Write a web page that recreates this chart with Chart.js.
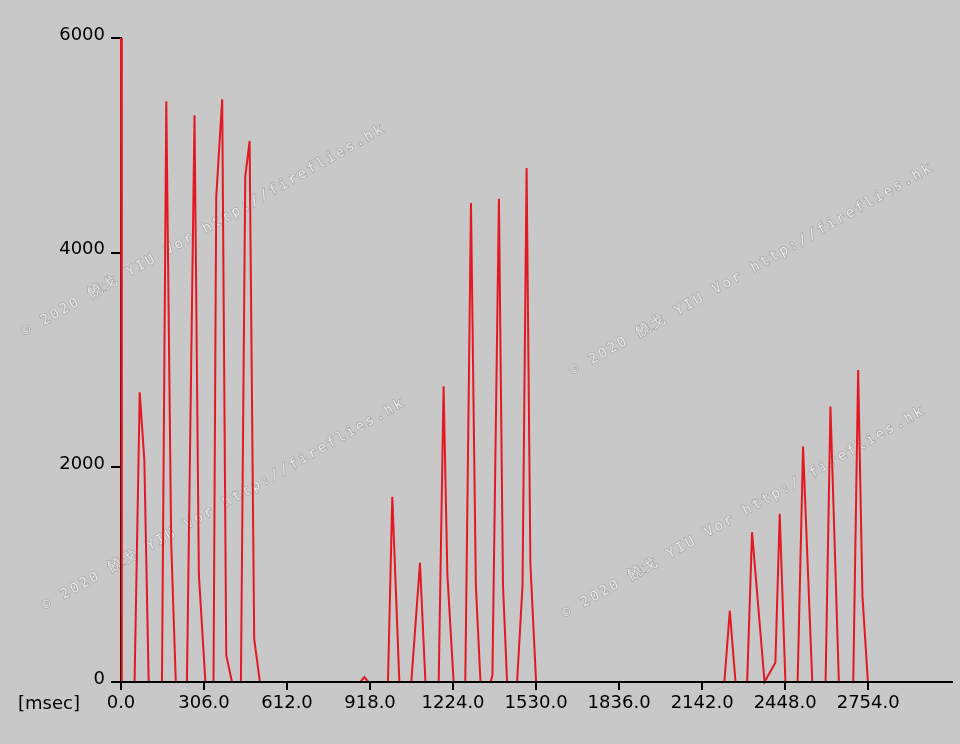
<!DOCTYPE html>
<html><head><meta charset="utf-8">
<script src="https://cdn.jsdelivr.net/npm/chart.js@4.4.1/dist/chart.umd.min.js"></script>
<style>html,body{margin:0;padding:0;background:#c8c8c8;overflow:hidden}canvas{display:block}</style>
</head><body>
<canvas id="c" width="960" height="744"></canvas>
<script>
// ---- data (time in msec, flash intensity) ----
const burst1Times  = [0,3,50,69,86,102,151,167,185,202,243,271,287,311,341,351,373,388,409,442,458,474,491,512];
const burst1Values = [6000,0,0,2700,2070,0,0,5410,1300,0,0,5280,1000,0,0,4520,5430,250,0,0,4710,5040,400,0];
const burst2Times  = [882,897,912,984,1000,1026,1070,1102,1122,1171,1189,1203,1226,1269,1290,1308,1325,1362,1369,1393,1408,1423,1460,1480,1495,1509,1530];
const burst2Values = [0,45,0,0,1726,0,0,1111,0,0,2755,1000,0,0,4462,900,0,0,60,4503,900,0,0,900,4788,1100,0];
const burst3Times  = [2224,2244,2265,2308,2326,2372,2412,2428,2449,2494,2514,2548,2597,2615,2646,2699,2717,2733,2753];
const burst3Values = [0,664,0,0,1396,0,180,1567,0,0,2193,0,0,2566,0,0,2907,800,0];
const xTickValues = [0,306,612,918,1224,1530,1836,2142,2448,2754];
const xTickLabels = ['0.0','306.0','612.0','918.0','1224.0','1530.0','1836.0','2142.0','2448.0','2754.0'];
const yTickValues = [0,2000,4000,6000];
const yTickLabels = ['0','2000','4000','6000'];
const xUnitLabel = '[msec]';
const watermarkText = '© 2020 饒戈 YIU Vor http://fireflies.hk';

const times = burst1Times.concat(burst2Times, burst3Times);
const values = burst1Values.concat(burst2Values, burst3Values);
const points = times.map((t, i) => ({x: t, y: values[i]}));

const FONT = {family: '"DejaVu Sans", sans-serif', size: 18};

const decor = {
  id: 'decor',
  beforeDraw(chart) {
    const ctx = chart.ctx;
    ctx.save();
    ctx.fillStyle = '#c8c8c8';
    ctx.fillRect(0, 0, chart.width, chart.height);
    const marks = [[23, 333], [571, 372], [43, 607], [563, 615]];
    ctx.font = '14px "DejaVu Sans Mono", monospace';
    try { ctx.letterSpacing = '2.5px'; } catch (e) {}
    ctx.textBaseline = 'middle';
    ctx.textAlign = 'left';
    marks.forEach(([x, y]) => {
      ctx.save();
      ctx.translate(x, y);
      ctx.rotate(-29.6 * Math.PI / 180);
      ctx.lineWidth = 1.6;
      ctx.strokeStyle = 'rgba(150,150,150,0.55)';
      ctx.strokeText(watermarkText, 0, 0);
      ctx.fillStyle = '#e6e6e6';
      ctx.fillText(watermarkText, 0, 0);
      ctx.restore();
    });
    ctx.restore();
  },
  afterDraw(chart) {
    const ctx = chart.ctx;
    ctx.save();
    ctx.font = '18px "DejaVu Sans", sans-serif';
    ctx.fillStyle = '#000';
    ctx.textBaseline = 'middle';
    ctx.textAlign = 'left';
    ctx.fillText(xUnitLabel, 18, 704);
    ctx.restore();
  }
};

new Chart(document.getElementById('c'), {
  type: 'line',
  data: {
    datasets: [{
      data: points,
      borderColor: 'rgb(228,24,34)',
      borderWidth: 2,
      pointRadius: 0,
      tension: 0,
      fill: false,
      clip: 4
    }]
  },
  options: {
    responsive: false,
    devicePixelRatio: 1,
    animation: false,
    layout: {padding: {left: 0, right: 8, top: 38, bottom: 0}},
    plugins: {legend: {display: false}, tooltip: {enabled: false}},
    scales: {
      x: {
        type: 'linear',
        min: 0,
        max: 3063,
        afterBuildTicks: s => { s.ticks = xTickValues.map(v => ({value: v})); },
        afterFit: s => { s.height = 62; },
        ticks: {
          autoSkip: false, maxRotation: 0, minRotation: 0,
          color: '#000', font: FONT, padding: 3, z: 1,
          callback: v => xTickLabels[xTickValues.indexOf(v)]
        },
        grid: {drawOnChartArea: false, drawTicks: true, tickLength: 8, color: '#000', lineWidth: 2, z: 1},
        border: {display: true, color: '#000', width: 2, z: 1}
      },
      y: {
        type: 'linear',
        min: 0,
        max: 6000,
        afterBuildTicks: s => { s.ticks = yTickValues.map(v => ({value: v})); },
        afterFit: s => { s.width = 121; },
        ticks: {
          color: '#000', font: FONT, padding: 6, labelOffset: -3,
          callback: v => yTickLabels[yTickValues.indexOf(v)]
        },
        grid: {drawOnChartArea: false, drawTicks: true, tickLength: 10, color: '#000', lineWidth: 2},
        border: {display: true, color: '#000', width: 2}
      }
    }
  },
  plugins: [decor]
});
</script>
</body></html>
